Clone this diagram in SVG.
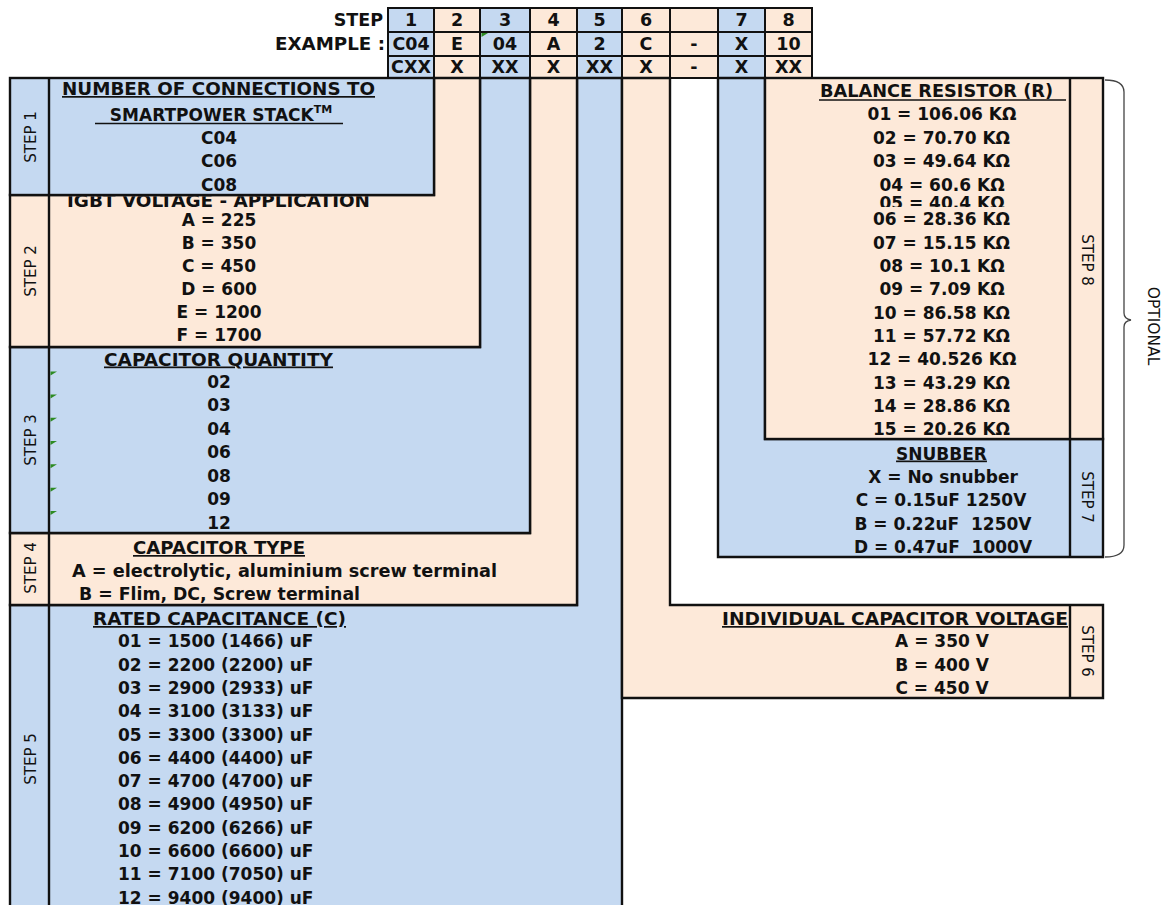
<svg xmlns="http://www.w3.org/2000/svg" width="1164" height="905" viewBox="0 0 1164 905">
<style>
.t{font-family:"DejaVu Sans","Liberation Sans",sans-serif;font-weight:bold;font-size:17px;fill:#111}
.c{text-anchor:middle}
.e{text-anchor:end}
.u{text-decoration:underline}
.lbl{font-family:"DejaVu Sans","Liberation Sans",sans-serif;font-weight:normal;font-size:15px;fill:#111;text-anchor:middle}
.tb{font-family:"DejaVu Sans","Liberation Sans",sans-serif;font-weight:bold;font-size:17.5px;fill:#111;text-anchor:middle}
.blue{fill:#C5D9F1}
.peach{fill:#FDE9D9}
.bx{stroke:#111;stroke-width:2.4;stroke-linejoin:miter}
.ln{stroke:#111;stroke-width:2.4}
.cell{stroke:#111;stroke-width:2}
.tri{fill:#2E8B22}
</style>
<defs>
<clipPath id="clip2"><rect x="49" y="196.3" width="430" height="150"/></clipPath>
<clipPath id="clip05"><rect x="770" y="190" width="300" height="17"/></clipPath>
</defs>

<g id="header-table">
<text class="t e" x="383" y="26" style="font-size:17.5px">STEP</text>
<text class="t e" x="385" y="50" textLength="110" lengthAdjust="spacingAndGlyphs" style="font-size:17.5px">EXAMPLE :</text>
<g>
<rect class="blue cell" x="388" y="8" width="46" height="24"/><rect class="peach cell" x="434" y="8" width="46" height="24"/><rect class="blue cell" x="480" y="8" width="50" height="24"/><rect class="peach cell" x="530" y="8" width="47" height="24"/><rect class="blue cell" x="577" y="8" width="45" height="24"/><rect class="peach cell" x="622" y="8" width="48" height="24"/><rect class="peach cell" x="670" y="8" width="48" height="24"/><rect class="blue cell" x="718" y="8" width="47" height="24"/><rect class="peach cell" x="765" y="8" width="47" height="24"/>
<rect class="blue cell" x="388" y="32" width="46" height="24"/><rect class="peach cell" x="434" y="32" width="46" height="24"/><rect class="blue cell" x="480" y="32" width="50" height="24"/><rect class="peach cell" x="530" y="32" width="47" height="24"/><rect class="blue cell" x="577" y="32" width="45" height="24"/><rect class="peach cell" x="622" y="32" width="48" height="24"/><rect class="peach cell" x="670" y="32" width="48" height="24"/><rect class="blue cell" x="718" y="32" width="47" height="24"/><rect class="peach cell" x="765" y="32" width="47" height="24"/>
<rect class="blue cell" x="388" y="56" width="46" height="22"/><rect class="peach cell" x="434" y="56" width="46" height="22"/><rect class="blue cell" x="480" y="56" width="50" height="22"/><rect class="peach cell" x="530" y="56" width="47" height="22"/><rect class="blue cell" x="577" y="56" width="45" height="22"/><rect class="peach cell" x="622" y="56" width="48" height="22"/><rect class="peach cell" x="670" y="56" width="48" height="22"/><rect class="blue cell" x="718" y="56" width="47" height="22"/><rect class="peach cell" x="765" y="56" width="47" height="22"/>
</g>
<polygon class="tri" points="481.5,33 488,33 481.5,37"/>
<text class="tb" x="411" y="26">1</text><text class="tb" x="457" y="26">2</text><text class="tb" x="505" y="26">3</text><text class="tb" x="553.5" y="26">4</text><text class="tb" x="599.5" y="26">5</text><text class="tb" x="646" y="26">6</text><text class="tb" x="741.5" y="26">7</text><text class="tb" x="788.5" y="26">8</text>
<text class="tb" x="411" y="50">C04</text><text class="tb" x="457" y="50">E</text><text class="tb" x="505" y="50">04</text><text class="tb" x="553.5" y="50">A</text><text class="tb" x="599.5" y="50">2</text><text class="tb" x="646" y="50">C</text><text class="tb" x="694" y="50">-</text><text class="tb" x="741.5" y="50">X</text><text class="tb" x="788.5" y="50">10</text>
<text class="tb" x="411" y="73">CXX</text><text class="tb" x="457" y="73">X</text><text class="tb" x="505" y="73">XX</text><text class="tb" x="553.5" y="73">X</text><text class="tb" x="599.5" y="73">XX</text><text class="tb" x="646" y="73">X</text><text class="tb" x="694" y="73">-</text><text class="tb" x="741.5" y="73">X</text><text class="tb" x="788.5" y="73">XX</text>
</g>

<g id="step5">
<path class="blue bx" d="M577,78 H622 V912 H10 V605 H577 Z"/>
<line class="ln" x1="49" y1="605" x2="49" y2="912"/>
<text class="lbl" transform="translate(30,759) rotate(-90)" x="0" y="5.5">STEP 5</text>
<text class="t c u" x="219.5" y="625" textLength="253" lengthAdjust="spacingAndGlyphs">RATED CAPACITANCE (C)</text>
<text class="t" x="118" y="647.3">01 = 1500 (1466) uF</text>
<text class="t" x="118" y="670.6">02 = 2200 (2200) uF</text>
<text class="t" x="118" y="693.9">03 = 2900 (2933) uF</text>
<text class="t" x="118" y="717.2">04 = 3100 (3133) uF</text>
<text class="t" x="118" y="740.5">05 = 3300 (3300) uF</text>
<text class="t" x="118" y="763.8">06 = 4400 (4400) uF</text>
<text class="t" x="118" y="787.1">07 = 4700 (4700) uF</text>
<text class="t" x="118" y="810.4">08 = 4900 (4950) uF</text>
<text class="t" x="118" y="833.7">09 = 6200 (6266) uF</text>
<text class="t" x="118" y="857">10 = 6600 (6600) uF</text>
<text class="t" x="118" y="880.3">11 = 7100 (7050) uF</text>
<text class="t" x="118" y="903.6">12 = 9400 (9400) uF</text>
</g>

<g id="step4">
<path class="peach bx" d="M530,78 H577 V605 H10 V533 H530 Z"/>
<line class="ln" x1="49" y1="533" x2="49" y2="605"/>
<text class="lbl" transform="translate(30,568) rotate(-90)" x="0" y="5.5">STEP 4</text>
<text class="t c u" x="219" y="554" textLength="172" lengthAdjust="spacingAndGlyphs">CAPACITOR TYPE</text>
<text class="t c" x="284.5" y="577" textLength="425" lengthAdjust="spacingAndGlyphs">A = electrolytic, aluminium screw terminal</text>
<text class="t c" x="219.5" y="600" textLength="281" lengthAdjust="spacingAndGlyphs">B = Flim, DC, Screw terminal</text>
</g>

<g id="step3">
<path class="blue bx" d="M480,78 H530 V533 H10 V347 H480 Z"/>
<line class="ln" x1="49" y1="347" x2="49" y2="533"/>
<text class="lbl" transform="translate(30,440) rotate(-90)" x="0" y="5.5">STEP 3</text>
<text class="t c u" x="218.5" y="365.5" textLength="229" lengthAdjust="spacingAndGlyphs">CAPACITOR QUANTITY</text>
<text class="t c" x="219" y="388">02</text>
<text class="t c" x="219" y="411.2">03</text>
<text class="t c" x="219" y="434.7">04</text>
<text class="t c" x="219" y="458">06</text>
<text class="t c" x="219" y="481.5">08</text>
<text class="t c" x="219" y="504.8">09</text>
<text class="t c" x="219" y="528.5">12</text>
<polygon class="tri" points="50.5,371.5 57,371.5 50.5,375.5"/>
<polygon class="tri" points="50.5,394.5 57,394.5 50.5,398.5"/>
<polygon class="tri" points="50.5,417.8 57,417.8 50.5,421.8"/>
<polygon class="tri" points="50.5,441 57,441 50.5,445"/>
<polygon class="tri" points="50.5,464.3 57,464.3 50.5,468.3"/>
<polygon class="tri" points="50.5,487.7 57,487.7 50.5,491.7"/>
<polygon class="tri" points="50.5,511 57,511 50.5,515"/>
</g>

<g id="step2">
<path class="peach bx" d="M434,78 H480 V347 H10 V195 H434 Z"/>
<line class="ln" x1="49" y1="195" x2="49" y2="347"/>
<text class="lbl" transform="translate(30,271) rotate(-90)" x="0" y="5.5">STEP 2</text>
<text class="t c" x="218.5" y="207" textLength="303" lengthAdjust="spacingAndGlyphs" clip-path="url(#clip2)">IGBT VOLTAGE - APPLICATION</text>
<text class="t c" x="219" y="225.5">A = 225</text>
<text class="t c" x="219" y="248.5">B = 350</text>
<text class="t c" x="219" y="271.5">C = 450</text>
<text class="t c" x="219" y="294.8">D = 600</text>
<text class="t c" x="219" y="318">E = 1200</text>
<text class="t c" x="219" y="341.3">F = 1700</text>
</g>

<g id="step1">
<rect class="blue bx" x="10" y="78" width="424" height="117"/>
<line class="ln" x1="49" y1="78" x2="49" y2="195"/>
<text class="lbl" transform="translate(30,137) rotate(-90)" x="0" y="5.5">STEP 1</text>
<text class="t c u" x="218.5" y="95" textLength="313" lengthAdjust="spacingAndGlyphs">NUMBER OF CONNECTIONS TO</text>
<text class="t c" x="221" y="120.5">SMARTPOWER STACK<tspan font-size="11" dy="-8">TM</tspan></text>
<line x1="95" y1="123.5" x2="343" y2="123.5" stroke="#111" stroke-width="1.4"/>
<text class="t c" x="219" y="144">C04</text>
<text class="t c" x="219" y="167.3">C06</text>
<text class="t c" x="219" y="190.6">C08</text>
</g>

<g id="step6">
<path class="peach bx" d="M622,78 H670 V605 H1103 V698 H622 Z"/>
<line class="ln" x1="1070" y1="605" x2="1070" y2="698"/>
<text class="lbl" transform="translate(1087,651) rotate(90)" x="0" y="5.5">STEP 6</text>
<text class="t c u" x="895" y="625" textLength="346" lengthAdjust="spacingAndGlyphs">INDIVIDUAL CAPACITOR VOLTAGE</text>
<text class="t c" x="942" y="647.3">A = 350 V</text>
<text class="t c" x="942" y="670.6">B = 400 V</text>
<text class="t c" x="942" y="694">C = 450 V</text>
</g>

<g id="step7">
<path class="blue bx" d="M718,78 H765 V439 H1103 V557 H718 Z"/>
<line class="ln" x1="1070" y1="439" x2="1070" y2="557"/>
<text class="lbl" transform="translate(1087,497) rotate(90)" x="0" y="5.5">STEP 7</text>
<text class="t c u" x="941.5" y="459.5">SNUBBER</text>
<text class="t c" x="943" y="482.8">X = No snubber</text>
<text class="t c" x="941" y="506">C = 0.15uF 1250V</text>
<text class="t c" x="943" y="529.5" xml:space="preserve">B = 0.22uF  1250V</text>
<text class="t c" x="943" y="552.8" xml:space="preserve">D = 0.47uF  1000V</text>
</g>

<g id="step8">
<rect class="peach bx" x="765" y="78" width="338" height="361"/>
<line class="ln" x1="1070" y1="78" x2="1070" y2="439"/>
<text class="lbl" transform="translate(1087,260) rotate(90)" x="0" y="5.5">STEP 8</text>
<text class="t c" x="936.5" y="97" textLength="233" lengthAdjust="spacingAndGlyphs">BALANCE RESISTOR (R)</text>
<line x1="819" y1="100" x2="1066" y2="100" stroke="#111" stroke-width="1.4"/>
<text class="t c" x="942" y="120.3">01 = 106.06 KΩ</text>
<text class="t c" x="941.5" y="143.6">02 = 70.70 KΩ</text>
<text class="t c" x="941.5" y="167">03 = 49.64 KΩ</text>
<text class="t c" x="942" y="191">04 = 60.6 KΩ</text>
<text class="t c" x="942" y="209" clip-path="url(#clip05)">05 = 40.4 KΩ</text>
<text class="t c" x="941.5" y="225">06 = 28.36 KΩ</text>
<text class="t c" x="941.5" y="248.5">07 = 15.15 KΩ</text>
<text class="t c" x="942" y="271.8">08 = 10.1 KΩ</text>
<text class="t c" x="942" y="295">09 = 7.09 KΩ</text>
<text class="t c" x="941.5" y="318.5">10 = 86.58 KΩ</text>
<text class="t c" x="941.5" y="341.8">11 = 57.72 KΩ</text>
<text class="t c" x="942" y="365">12 = 40.526 KΩ</text>
<text class="t c" x="941.5" y="388.5">13 = 43.29 KΩ</text>
<text class="t c" x="941.5" y="411.8">14 = 28.86 KΩ</text>
<text class="t c" x="941.5" y="435">15 = 20.26 KΩ</text>
</g>

<g id="connectors">
<path d="M1105,80 Q1124,80 1124,92 L1124,313 Q1124,319 1131,320 Q1124,321 1124,327 L1124,545 Q1124,557 1105,557" fill="none" stroke="#444" stroke-width="1.3"/>
</g>

<g id="optional-label">
<text transform="translate(1153,326) rotate(90)" x="0" y="5.5" style="font-family:'DejaVu Sans','Liberation Sans',sans-serif;font-size:15.5px;fill:#111;text-anchor:middle">OPTIONAL</text>
</g>
</svg>
